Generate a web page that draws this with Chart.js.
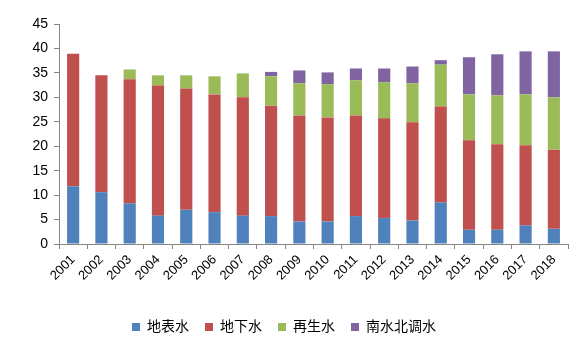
<!DOCTYPE html>
<html>
<head>
<meta charset="utf-8">
<script src="https://cdn.jsdelivr.net/npm/chart.js@4"></script>
<style>
  html, body { margin: 0; padding: 0; background: #fff; }
  #wrap { width: 582px; height: 344px; }
</style>
</head>
<body>
<div id="wrap"><canvas id="chart" width="582" height="344"></canvas></div>
<script>
// years on the x axis
const years = ['2001','2002','2003','2004','2005','2006','2007','2008','2009',
               '2010','2011','2012','2013','2014','2015','2016','2017','2018'];

// water supply by source
const surfaceWater = [11.8, 10.6, 8.3, 5.8, 7.0, 6.5, 5.8, 5.7, 4.6, 4.6, 5.7, 5.3, 4.8, 8.5, 2.9, 2.9, 3.8, 3.1];
const groundWater  = [27.1, 23.9, 25.4, 26.6, 24.8, 24.1, 24.2, 22.6, 21.7, 21.3, 20.6, 20.4, 20.1, 19.6, 18.3, 17.5, 16.4, 16.2];
const recycledWater = [0, 0, 2.0, 2.1, 2.7, 3.7, 4.9, 6.0, 6.6, 6.8, 7.2, 7.4, 8.0, 8.6, 9.4, 10.0, 10.4, 10.7];
const southNorthWater = [0, 0, 0, 0, 0, 0, 0, 0.9, 2.6, 2.4, 2.4, 2.8, 3.4, 0.9, 7.6, 8.4, 8.8, 9.4];

const seriesNames = ['地表水', '地下水', '再生水', '南水北调水'];
const yTicks = [0, 5, 10, 15, 20, 25, 30, 35, 40, 45];

const fontFamily = '"Liberation Sans", "Noto Sans CJK SC", sans-serif';
const axisColor = '#868686';

function makeSet(label, data, color) {
    return {
        label: label,
        data: data,
        backgroundColor: color,
        borderWidth: 0,
        categoryPercentage: 1,
        barPercentage: 0.43
    };
}

new Chart(document.getElementById('chart').getContext('2d'), {
    type: 'bar',
    data: {
        labels: years,
        datasets: [
            makeSet(seriesNames[0], surfaceWater, '#4F81BD'),
            makeSet(seriesNames[1], groundWater, '#C0504D'),
            makeSet(seriesNames[2], recycledWater, '#9BBB59'),
            makeSet(seriesNames[3], southNorthWater, '#8064A2')
        ]
    },
    options: {
        responsive: false,
        animation: false,
        layout: { padding: { left: 0, right: 14, top: 24, bottom: 0 } },
        plugins: {
            legend: {
                position: 'bottom',
                labels: {
                    boxWidth: 8,
                    boxHeight: 8,
                    padding: 16,
                    color: '#000',
                    font: { family: fontFamily, size: 14 }
                }
            },
            tooltip: { enabled: false }
        },
        scales: {
            x: {
                stacked: true,
                border: { color: axisColor, width: 1 },
                grid: { display: true, offset: true, drawOnChartArea: false, tickLength: 5, color: axisColor },
                ticks: {
                    color: '#000',
                    minRotation: 45,
                    maxRotation: 45,
                    font: { family: fontFamily, size: 13 }
                },
                afterFit: function(scale) { scale.height = 60; }
            },
            y: {
                stacked: true,
                min: 0,
                max: 45,
                afterBuildTicks: function(scale) {
                    scale.ticks = yTicks.map(v => ({ value: v }));
                },
                border: { color: axisColor, width: 1 },
                grid: { display: true, drawOnChartArea: false, tickLength: 5, color: axisColor },
                ticks: {
                    color: '#000',
                    padding: 6,
                    font: { family: fontFamily, size: 14 }
                },
                afterFit: function(scale) { scale.width = 59; }
            }
        }
    }
});
</script>
</body>
</html>
